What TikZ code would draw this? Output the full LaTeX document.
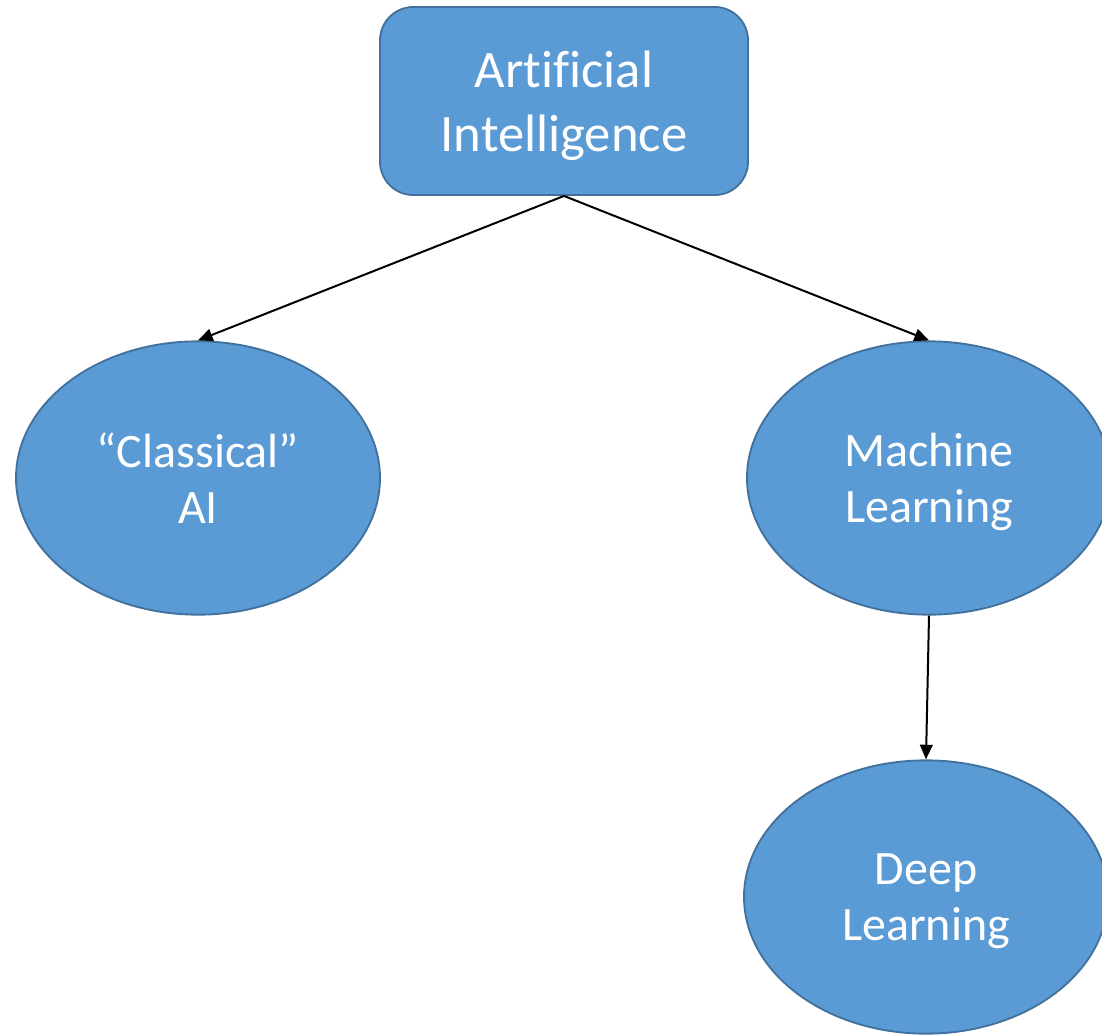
\documentclass[tikz,border=0pt]{standalone}
\usepackage{fontspec}
\setmainfont[Ligatures=NoCommon]{Carlito}
\usetikzlibrary{shapes.geometric,arrows.meta}
\definecolor{boxfill}{HTML}{5B9BD5}
\definecolor{boxline}{HTML}{41719C}
\tikzset{
  px/.style={x=0.75pt,y=-0.75pt},
  blob/.style={draw=boxline,fill=boxfill,line width=1.4pt,text=white,align=center,inner sep=0pt,text depth=0pt},
  topbox/.style={blob,rectangle,rounded corners=25pt,minimum width=276pt,minimum height=141pt,
     font=\fontsize{39.5}{48}\selectfont},
  oval/.style={blob,ellipse,minimum width=273pt,minimum height=205pt,
     font=\fontsize{36}{42}\selectfont},
  arr/.style={-{Triangle[length=11pt,width=9.5pt]},line width=1.5pt,black}
}
\begin{document}
\begin{tikzpicture}[px]
\useasboundingbox (0,0) rectangle (1102,1035);
\clip (0,0) rectangle (1102,1035);
\node[topbox] (ai) at (564,101) {Artificial\\Intelligence};
\node[oval] (cl) at (198,478) {“Classical”\\AI};
\node[oval] (ml) at (929,478) {Machine\\Learning};
\node[oval] (dl) at (926,897) {Deep\\Learning};
\draw[arr] (ai.south) -- (cl.north);
\draw[arr] (ai.south) -- (ml.north);
\draw[arr] (ml.south) -- (dl.north);
\end{tikzpicture}
\end{document}
